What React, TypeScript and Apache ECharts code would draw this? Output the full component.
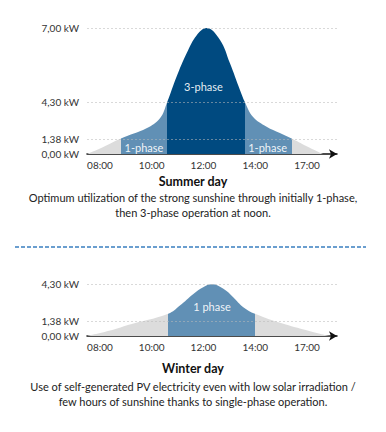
import React, { useEffect, useRef } from "react";
import * as echarts from "echarts";

// ---- data ----
const X_LABELS = ["08:00", "10:00", "12:00", "14:00", "17:00"];
const X_TICK_HOURS = [8, 10, 12, 14, 17];
const Y_TICK_KW = [0, 1.38, 4.3, 7.0];

const SUMMER_HOURS = [7.5, 8.15, 8.81, 9.8, 10.32, 10.6, 10.96, 11.35, 11.74, 12.12, 12.64, 13.02, 13.41, 13.6, 13.91, 14.66, 15.43, 16.11, 16.95, 17.93];
const SUMMER_KW = [0, 0.67, 1.42, 2.22, 3.01, 4.3, 5.22, 6.08, 6.74, 7.0, 6.56, 5.72, 4.74, 4.3, 3.14, 2.35, 1.85, 1.42, 0.74, 0];
// 1-phase start, 3-phase start, 3-phase end, 1-phase end
const SUMMER_PHASE_HOURS = [8.81, 10.6, 13.6, 16.11];

const WINTER_HOURS = [7.5, 8.51, 9.08, 10.64, 11.09, 11.61, 11.99, 12.32, 12.77, 13.15, 13.54, 13.99, 15.63, 17.75, 18.33];
const WINTER_KW = [0, 0.57, 1.01, 1.95, 2.6, 3.52, 4.05, 4.28, 3.92, 3.26, 2.47, 1.95, 1.12, 0.2, 0];
// 1-phase start, 1-phase end
const WINTER_PHASE_HOURS = [10.64, 14.0];

const AXIS_START_HOUR = 7.5;
const AXIS_END_HOUR = 18.74;

// label anchors [hour, kW]
const SUMMER_LABELS: [string, number, number][] = [
  ["3-phase", 12.0, 4.88],
  ["1-phase", 9.7, 0.64],
  ["1-phase", 14.72, 0.64],
];
const WINTER_LABELS: [string, number, number][] = [["1 phase", 12.33, 2.52]];

const SUMMER_TITLE = "Summer day";
const SUMMER_TEXT = [
  "Optimum utilization of the strong sunshine through initially 1-phase,",
  "then 3-phase operation at noon.",
];
const WINTER_TITLE = "Winter day";
const WINTER_TEXT = [
  "Use of self-generated PV electricity even with low solar irradiation /",
  "few hours of sunshine thanks to single-phase operation.",
];

// ---- layout / style (schematic, non-linear axis levels) ----
const Y_LEVELS = [0, 15, 52, 126];
const SLOTS = X_TICK_HOURS.map((_, i) => i);
const GRAY = "#dcdcdc";
const LIGHT = "#6190b5";
const DARK = "#004a80";
const FONT = "Lato, 'Open Sans', sans-serif";

function piecewise(v: number, from: number[], to: number[]) {
  let i = 0;
  while (i < from.length - 2 && v > from[i + 1]) i++;
  const t = (v - from[i]) / (from[i + 1] - from[i]);
  return to[i] + t * (to[i + 1] - to[i]);
}
const mapX = (h: number) => piecewise(h, X_TICK_HOURS, SLOTS);
const mapY = (k: number) => piecewise(k, Y_TICK_KW, Y_LEVELS);
const fmtKw = (k: number) => k.toFixed(2).replace(".", ",") + " kW";

function nearestIdx(arr: number[], v: number) {
  let best = 0;
  arr.forEach((a, i) => {
    if (Math.abs(a - v) < Math.abs(arr[best] - v)) best = i;
  });
  return best;
}

function xAxis(gridIndex: number) {
  return {
    type: "value",
    gridIndex,
    min: mapX(AXIS_START_HOUR),
    max: mapX(AXIS_END_HOUR),
    axisLine: {
      show: true,
      symbol: ["none", "arrow"],
      symbolSize: [7, 8],
      lineStyle: { color: "#111", width: 1.5 },
    },
    axisTick: { show: false },
    splitLine: { show: false },
    axisLabel: {
      customValues: SLOTS,
      formatter: (v: number) => X_LABELS[nearestIdx(SLOTS, v)],
      color: "#333",
      fontSize: 10,
      fontFamily: FONT,
      margin: 6,
    },
  };
}

function yAxis(gridIndex: number, levels: number) {
  const vals = Y_LEVELS.slice(0, levels);
  return {
    type: "value",
    gridIndex,
    min: 0,
    max: vals[vals.length - 1],
    axisLine: { show: false },
    axisTick: { show: false },
    splitLine: { show: false },
    axisLabel: {
      customValues: vals,
      formatter: (v: number) => fmtKw(Y_TICK_KW[nearestIdx(Y_LEVELS, v)]),
      color: "#333",
      fontSize: 10,
      fontFamily: FONT,
      margin: 8,
    },
  };
}

function pieces(bounds: number[], colors: string[]) {
  const b = bounds.map(mapX);
  const out: any[] = [{ lt: b[0], color: colors[0] }];
  for (let i = 0; i < b.length - 1; i++) out.push({ gte: b[i], lt: b[i + 1], color: colors[i + 1] });
  out.push({ gte: b[b.length - 1], color: colors[colors.length - 1] });
  return out;
}

function areaSeries(i: number, hours: number[], kw: number[], labels: [string, number, number][], levels: number[]) {
  return {
    type: "line",
    xAxisIndex: i,
    yAxisIndex: i,
    data: hours.map((h, j) => [mapX(h), mapY(kw[j])]),
    smooth: 0.4,
    showSymbol: false,
    silent: true,
    lineStyle: { width: 0 },
    areaStyle: { opacity: 1 },
    markLine: {
      silent: true,
      symbol: "none",
      label: { show: false },
      lineStyle: { color: "rgba(185,185,185,0.55)", type: [2, 2], width: 1 },
      data: levels.map((k) => ({ yAxis: mapY(k) })),
    },
    markPoint: {
      silent: true,
      symbol: "circle",
      symbolSize: 0,
      data: labels.map(([t, h, k]) => ({ coord: [mapX(h), mapY(k)], value: t })),
      label: {
        show: true,
        position: "inside",
        formatter: (p: any) => p.value,
        color: "rgba(255,255,255,0.92)",
        fontSize: 11,
        fontFamily: FONT,
      },
    },
  };
}

function textEl(text: string, x: number, y: number, font: string, fill: string) {
  return {
    type: "text",
    x,
    y,
    silent: true,
    style: { text, font, fill, textAlign: "center", textVerticalAlign: "middle", align: "center", verticalAlign: "middle" },
  };
}

export default function App() {
  const ref = useRef<HTMLDivElement>(null);
  useEffect(() => {
    document.body.style.margin = "0";
    const chart = echarts.init(ref.current!, null, { renderer: "svg" });
    chart.setOption({
      animation: false,
      backgroundColor: "#fff",
      grid: [
        { left: 87, width: 250, top: 28, height: 126 },
        { left: 87, width: 250, top: 284, height: 52 },
      ],
      xAxis: [xAxis(0), xAxis(1)],
      yAxis: [yAxis(0, 4), yAxis(1, 3)],
      visualMap: [
        { show: false, type: "piecewise", seriesIndex: 0, dimension: 0, pieces: pieces(SUMMER_PHASE_HOURS, [GRAY, LIGHT, DARK, LIGHT, GRAY]) },
        { show: false, type: "piecewise", seriesIndex: 1, dimension: 0, pieces: pieces(WINTER_PHASE_HOURS, [GRAY, LIGHT, GRAY]) },
      ],
      series: [
        areaSeries(0, SUMMER_HOURS, SUMMER_KW, SUMMER_LABELS, Y_TICK_KW.slice(1)),
        areaSeries(1, WINTER_HOURS, WINTER_KW, WINTER_LABELS, Y_TICK_KW.slice(1, 3)),
      ],
      graphic: [
        textEl(SUMMER_TITLE, 193, 181.5, `bold 12.5px ${FONT}`, "#111"),
        textEl(SUMMER_TEXT[0], 193, 197.5, `11px ${FONT}`, "#222"),
        textEl(SUMMER_TEXT[1], 193, 212.5, `11px ${FONT}`, "#222"),
        {
          type: "line",
          silent: true,
          shape: { x1: 15, y1: 247, x2: 366, y2: 247 },
          style: { stroke: "#3a7fc0", lineWidth: 1.5, lineDash: [4, 2] },
        },
        textEl(WINTER_TITLE, 193, 368.5, `bold 12.5px ${FONT}`, "#111"),
        textEl(WINTER_TEXT[0], 193, 386, `11px ${FONT}`, "#222"),
        textEl(WINTER_TEXT[1], 193, 401, `11px ${FONT}`, "#222"),
      ],
    });
    return () => chart.dispose();
  }, []);
  return <div ref={ref} style={{ position: "fixed", left: 0, top: 0, width: 386, height: 432 }} />;
}
